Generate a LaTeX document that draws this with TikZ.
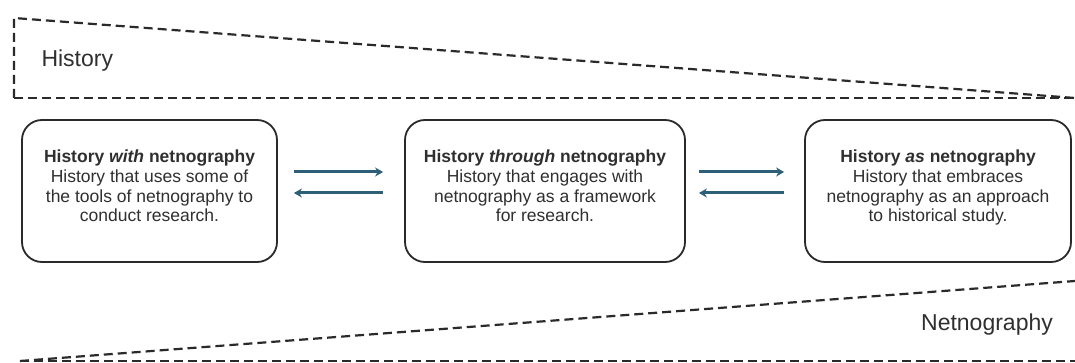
\documentclass[tikz,border=0pt]{standalone}
\usepackage{fontspec}
\setmainfont{Liberation Sans}
\usetikzlibrary{arrows.meta}
\definecolor{linegray}{HTML}{2A2A2A}
\definecolor{textgray}{HTML}{2F2F2F}
\definecolor{arrowblue}{HTML}{2E5F78}
\tikzset{
  bandline/.style={draw=linegray, line width=2.2pt, dash pattern=on 9pt off 5pt},
  stagebox/.style={draw=linegray, line width=1.8pt, rounded corners=20pt,
    minimum width=255pt, minimum height=142pt, align=center, text=textgray,
    text depth=10pt, font=\fontsize{17.5}{19.7}\selectfont},
  flow/.style={draw=arrowblue, line width=3pt, -{Stealth[length=8pt,width=9pt]}},
  bandlabel/.style={font=\fontsize{23}{26}\selectfont, text=textgray}
}
\begin{document}
\begin{tikzpicture}[x=1pt,y=-1pt]
\useasboundingbox[fill=white] (0,0) rectangle (1075,363);

% upper band: narrowing wedge labelled History
\draw[bandline] (14,98) -- (14,18) -- (1075,98);
\draw[bandline] (14,98) -- (1075,98);
\node[bandlabel, anchor=west] (hist) at (38,61) {History};

% lower band: widening wedge labelled Netnography
\draw[bandline] (20,361) -- (1075,281);
\draw[bandline] (20,361) -- (1075,361);
\node[bandlabel] (netn) at (987,325) {Netnography};

% the three stages
\node[stagebox] (b1) at (149.5,191) {\textbf{History \textit{with} netnography}\\History that uses some of\\the tools of netnography to\\conduct research.};
\node[stagebox, minimum width=280pt] (b2) at (545,191) {\textbf{History \textit{through} netnography}\\History that engages with\\netnography as a framework\\for research.};
\node[stagebox, minimum width=266pt] (b3) at (938,191) {\textbf{History \textit{as} netnography}\\History that embraces\\netnography as an approach\\to historical study.};

% two-way links between neighbouring stages
\draw[flow, shorten <=16pt, shorten >=21pt] ([yshift=19pt]b1.east) -- ([yshift=19pt]b2.west);
\draw[flow, shorten <=21pt, shorten >=16pt] ([yshift=-2pt]b2.west) -- ([yshift=-2pt]b1.east);
\draw[flow, shorten <=13pt, shorten >=20pt] ([yshift=19pt]b2.east) -- ([yshift=19pt]b3.west);
\draw[flow, shorten <=20pt, shorten >=13pt] ([yshift=-2pt]b3.west) -- ([yshift=-2pt]b2.east);
\end{tikzpicture}
\end{document}
